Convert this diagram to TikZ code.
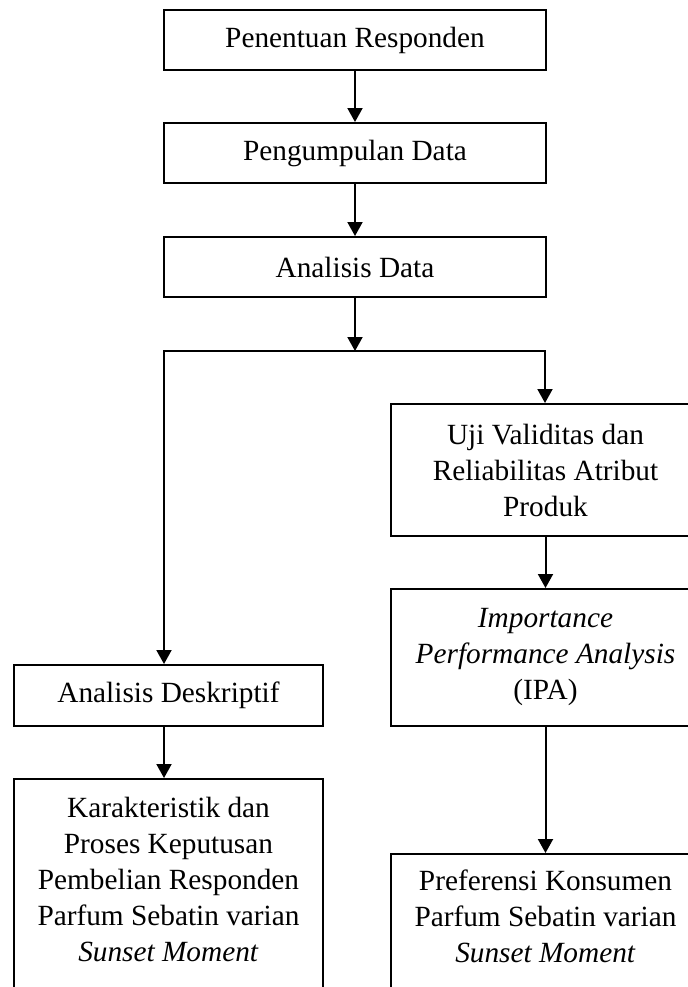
\documentclass[tikz,border=0pt]{standalone}
\usepackage{fontspec}
\setmainfont{Liberation Serif}
\usetikzlibrary{arrows.meta}
\begin{document}
\begin{tikzpicture}[x=0.5pt,y=-0.5pt,
  box/.style={draw,line width=1pt,inner sep=0pt,align=center,
    font=\fontsize{14.65}{18}\selectfont},
  arr/.style={line width=1pt,-{Triangle[length=7pt,width=7.5pt]}}]
\useasboundingbox (0,0) rectangle (688,987);
\node[box,minimum width=191pt,minimum height=30pt] (b1) at (355,40) {Penentuan Responden};
\node[box,minimum width=191pt,minimum height=30pt] (b2) at (355,153) {Pengumpulan Data};
\node[box,minimum width=191pt,minimum height=30pt] (b3) at (355,267) {Analisis Data};
\coordinate (j) at (355,351);
\coordinate (jl) at (164,351);
\coordinate (jr) at (545,351);
\node[box,minimum width=154.5pt,minimum height=66pt] (uji) at (545.5,470) {Uji Validitas dan\\Reliabilitas Atribut\\Produk};
\node[box,minimum width=154.5pt,minimum height=68.5pt] (ipa) at (545.5,657.5) {\textit{Importance}\\\textit{Performance Analysis}\\(IPA)};
\node[box,minimum width=154.5pt,minimum height=70.5pt] (pref) at (545.5,924.5) {Preferensi Konsumen\\Parfum Sebatin varian\\\textit{Sunset Moment}\rule[-8pt]{0pt}{8pt}};
\node[box,minimum width=154.5pt,minimum height=30.5pt] (ad) at (168.5,695.5) {Analisis Deskriptif};
\node[box,minimum width=154.5pt,minimum height=108pt] (kar) at (168.5,887) {Karakteristik dan\\Proses Keputusan\\Pembelian Responden\\Parfum Sebatin varian\\\textit{Sunset Moment}\rule[-8pt]{0pt}{8pt}};
\draw[arr] (b1.south) -- (b2.north);
\draw[arr] (b2.south) -- (b3.north);
\draw[arr] (b3.south) -- (j);
\draw[line width=1pt,{Triangle[length=7pt,width=7.5pt]}-{Triangle[length=7pt,width=7.5pt]}] (jl|-ad.north) -- (jl) -- (jr) -- (jr|-uji.north);
\draw[arr] (uji.south) -- (ipa.north);
\draw[arr] (ipa.south) -- (pref.north);
\draw[arr] (ad.south-|jl) -- (kar.north-|jl);
\end{tikzpicture}
\end{document}
